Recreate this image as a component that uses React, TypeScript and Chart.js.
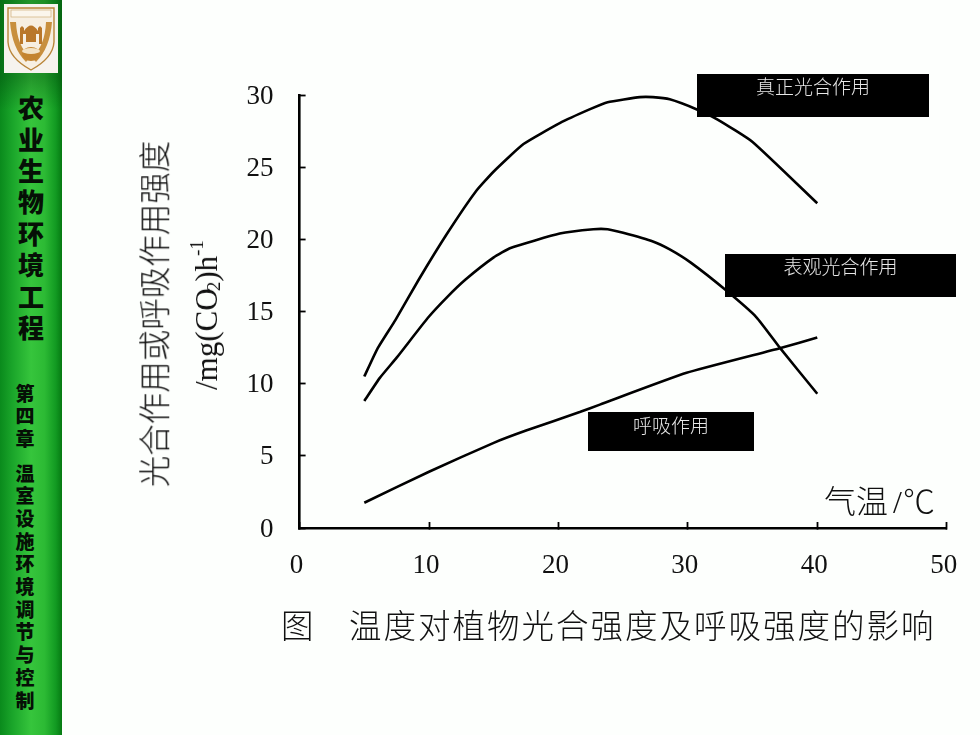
import React, { useEffect, useRef } from "react";
import { Chart, registerables } from "chart.js";

Chart.register(...registerables);

const grossT = [5, 6, 7.4, 9.2, 11.4, 13.6, 15, 17.3, 20.1, 22.4, 23.8, 26.3, 27.3, 28.6, 30.7, 32.3, 35, 40];
const grossV = [10.5, 12.4, 14.4, 17.2, 20.4, 23.3, 24.7, 26.6, 28.05, 29, 29.5, 29.85, 29.85, 29.7, 29, 28.3, 26.75, 22.5];
const netT = [5, 6.2, 7.5, 9.9, 11.4, 12.8, 15, 16.3, 20.1, 22.7, 23.8, 25, 27.3, 28.6, 30.2, 32.9, 35.3, 37.1, 40];
const netV = [8.8, 10.4, 11.8, 14.55, 16, 17.2, 18.75, 19.4, 20.4, 20.7, 20.7, 20.45, 19.85, 19.3, 18.4, 16.5, 14.6, 12.5, 9.3];
const respT = [5, 10, 15, 17.5, 21.7, 23.2, 29.9, 37.1, 40];
const respV = [1.75, 3.9, 5.9, 6.75, 8.05, 8.55, 10.75, 12.45, 13.2];

const xMax = 50;
const yMax = 30;
const xStep = 10;
const yStep = 5;

const sidebarTitle = "农业生物环境工程";
const sidebarChapter = "第四章";
const sidebarSection = "温室设施环境调节与控制";
const yTitleMain = "光合作用或呼吸作用强度";
const caption = "温度对植物光合强度及呼吸强度的影响";

const CJK = '"Noto Sans CJK SC", "Noto Sans", sans-serif';
const SERIF = '"Liberation Serif", serif';

const zip = (xs: number[], ys: number[]) => xs.map((x, i) => ({ x, y: ys[i] }));

function Column({ text, left, top, width, step, size }: { text: string; left: number; top: number; width: number; step: number; size: number }) {
  return (
    <div style={{ position: "absolute", left, top: top - step / 2, width, fontFamily: CJK, fontWeight: 900, fontSize: size, color: "#061006", textAlign: "center" }}>
      {Array.from(text).map((c, i) => (
        <div key={i} style={{ height: step, lineHeight: `${step}px` }}>{c}</div>
      ))}
    </div>
  );
}

function Label({ text, left, top, width, height, cy }: { text: string; left: number; top: number; width: number; height: number; cy: number }) {
  return (
    <div style={{ position: "absolute", left, top, width, height, background: "#000", color: "#e8e8e8", fontFamily: CJK, fontWeight: 300, fontSize: 19, textAlign: "center", lineHeight: `${2 * (cy - top)}px` }}>
      {text}
    </div>
  );
}

export default function App() {
  const ref = useRef<HTMLCanvasElement>(null);

  useEffect(() => {
    const common = { borderColor: "#000", borderWidth: 2.6, pointRadius: 0, tension: 0.15, fill: false };
    const chart = new Chart(ref.current!, {
      type: "line",
      data: {
        datasets: [
          { label: "真正光合作用", data: zip(grossT, grossV), ...common },
          { label: "表观光合作用", data: zip(netT, netV), ...common },
          { label: "呼吸作用", data: zip(respT, respV), ...common },
        ],
      },
      options: {
        animation: false,
        responsive: false,
        devicePixelRatio: 1,
        layout: { padding: { top: 95, right: 33.3, left: 0, bottom: 0 } },
        plugins: { legend: { display: false }, tooltip: { enabled: false }, title: { display: false } },
        scales: {
          x: {
            type: "linear",
            min: 0,
            max: xMax,
            afterFit: (s: any) => { s.height = 207; s.paddingLeft = 0; s.paddingRight = 0; },
            border: { color: "#000", width: 2.6 },
            grid: { drawOnChartArea: false, color: "#000", tickLength: -6, tickWidth: 1.8 },
            ticks: { stepSize: xStep, autoSkip: false, maxRotation: 0, color: "#111", padding: 28, labelOffset: -3, font: { family: SERIF, size: 27 } },
          },
          y: {
            type: "linear",
            min: 0,
            max: yMax,
            afterFit: (s: any) => { s.width = 299.6; s.paddingTop = 0; s.paddingBottom = 0; },
            border: { color: "#000", width: 2.6 },
            grid: { drawOnChartArea: false, color: "#000", tickLength: -6, tickWidth: 1.8 },
            ticks: { stepSize: yStep, autoSkip: false, color: "#111", padding: 32, labelOffset: 1.5, font: { family: SERIF, size: 27 } },
          },
        },
      },
    } as any);
    return () => chart.destroy();
  }, []);

  return (
    <div style={{ position: "absolute", left: 0, top: 0, width: 980, height: 735, overflow: "hidden", background: "#fdfffd" }}>
      <canvas ref={ref} width={980} height={735} style={{ position: "absolute", left: 0, top: 0, display: "block" }} />

      {/* sidebar */}
      <div style={{ position: "absolute", left: 0, top: 0, width: 62, height: 735, background: "linear-gradient(90deg,#0a8a1c 0%,#1aa52a 20%,#36c53c 50%,#2cba34 72%,#129a22 90%,#067a12 100%)" }} />
      <div style={{ position: "absolute", left: 0, top: 0, width: 62, height: 110, background: "linear-gradient(180deg,rgba(0,60,10,.35) 0%,rgba(0,60,10,.35) 70%,rgba(0,60,10,0) 100%)" }} />
      <svg width={54} height={69} viewBox="0 0 54 69" style={{ position: "absolute", left: 4, top: 4 }}>
        <rect width={54} height={69} fill="#f6f3ee" />
        <path d="M4 4 H50 V38 Q49 54 27 66 Q5 54 4 38 Z" fill="#f7efe2" stroke="#b98538" strokeWidth={1.4} />
        <rect x={7} y={6} width={40} height={7} fill="#fbf6ec" stroke="#c9a36a" strokeWidth={0.6} />
        <path d="M6 18 Q8 44 22 58 L26 53 Q13 42 12 18 Z" fill="#c88f3e" />
        <path d="M48 18 Q46 44 32 58 L28 53 Q41 42 42 18 Z" fill="#c88f3e" />
        <path d="M16 40 V24 L18 22 L20 24 V27 Q27 16 34 27 V24 L36 22 L38 24 V40 H35 V30 H32 V38 H22 V30 H19 V40 Z" fill="#b9772a" />
        <ellipse cx={27} cy={50} rx={9} ry={7} fill="#c4842f" />
        <ellipse cx={27} cy={47} rx={9} ry={3} fill="#f3e3c6" />
      </svg>
      <Column text={sidebarTitle} left={0} top={107} width={62} step={31.4} size={26} />
      <Column text={sidebarChapter} left={0} top={393} width={50} step={22.7} size={19} />
      <Column text={sidebarSection} left={0} top={473} width={50} step={22.7} size={19} />

      {/* y axis titles */}
      <div style={{ position: "absolute", left: 153, top: 314, width: 0, height: 0 }}>
        <div style={{ position: "absolute", transform: "translate(-50%,-50%) rotate(-90deg)", whiteSpace: "nowrap", fontFamily: CJK, fontWeight: 300, fontSize: 31.5, color: "#111", lineHeight: 1 }}>
          {yTitleMain}
        </div>
      </div>
      <div style={{ position: "absolute", left: 207, top: 315, width: 0, height: 0 }}>
        <div style={{ position: "absolute", transform: "translate(-50%,-50%) rotate(-90deg)", whiteSpace: "nowrap", fontFamily: SERIF, fontSize: 31, color: "#111", lineHeight: 1 }}>
          /mg(CO<span style={{ fontSize: 19, marginLeft: -3, verticalAlign: -3 }}>2</span>)h<sup style={{ fontSize: 19, lineHeight: 0, verticalAlign: 14 }}>-1</sup>
        </div>
      </div>

      {/* x axis title */}
      <div style={{ position: "absolute", left: 824, top: 481, whiteSpace: "nowrap", fontFamily: CJK, fontWeight: 300, fontSize: 32, color: "#111", lineHeight: "36px" }}>
        气温<span style={{ fontFamily: SERIF, margin: "0 1px 0 5px" }}>/</span>℃
      </div>

      {/* figure caption */}
      <div style={{ position: "absolute", left: 281, top: 605, whiteSpace: "nowrap", fontFamily: CJK, fontWeight: 300, fontSize: 32.5, letterSpacing: 2, color: "#111", lineHeight: "38px" }}>
        图
      </div>
      <div style={{ position: "absolute", left: 349, top: 605, whiteSpace: "nowrap", fontFamily: CJK, fontWeight: 300, fontSize: 32.5, letterSpacing: 2, color: "#111", lineHeight: "38px" }}>
        {caption}
      </div>

      {/* curve labels */}
      <Label text="真正光合作用" left={697} top={74} width={232} height={43} cy={86} />
      <Label text="表观光合作用" left={725} top={254} width={231} height={43} cy={266} />
      <Label text="呼吸作用" left={588} top={412} width={166} height={39} cy={425} />
    </div>
  );
}
